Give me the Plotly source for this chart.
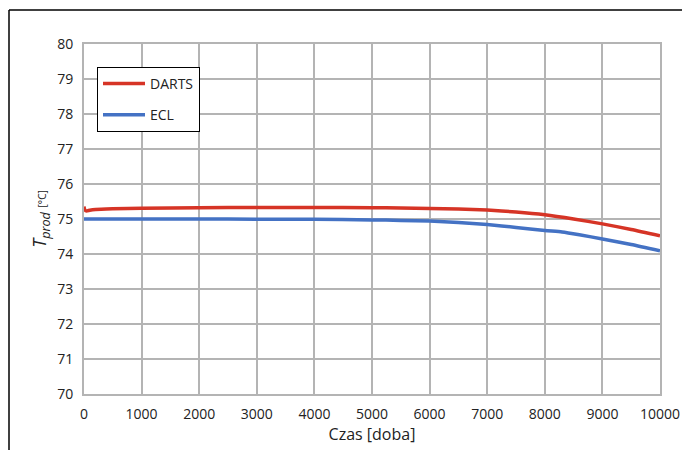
import plotly.graph_objects as go

# Data
darts_t = [0, 10, 40, 100, 200, 500, 1000, 2000, 3000, 4000, 5000, 5500, 6000, 6500, 7000, 7500, 8000, 8500, 9000, 9500, 10000]
darts_T = [75.36, 75.28, 75.23, 75.25, 75.27, 75.29, 75.31, 75.32, 75.33, 75.33, 75.32, 75.315, 75.30, 75.285, 75.255, 75.20, 75.12, 75.00, 74.86, 74.70, 74.52]
ecl_t = [0, 1000, 2000, 3000, 4000, 5000, 5500, 6000, 6500, 7000, 7500, 8000, 8300, 8600, 9000, 9500, 10000]
ecl_T = [75.0, 75.0, 75.0, 74.995, 74.99, 74.975, 74.96, 74.94, 74.90, 74.84, 74.76, 74.67, 74.63, 74.55, 74.43, 74.27, 74.09]
x_ticks = list(range(0, 10001, 1000))
x_labels = [str(v) for v in x_ticks]
y_ticks = list(range(70, 81))

W, H = 682, 450
ml, mr, mt, mb = 84, 22, 44, 56

fig = go.Figure()
fig.add_trace(go.Scatter(x=darts_t, y=darts_T, mode="lines", name="DARTS", legendgroup="a",
                         line=dict(color="#d63426", width=3.5, shape="spline", smoothing=0.6)))
fig.add_trace(go.Scatter(x=ecl_t, y=ecl_T, mode="lines", name="ECL", legendgroup="b",
                         line=dict(color="#4472c4", width=3.5, shape="spline", smoothing=0.6)))

pw = W - ml - mr
ph = H - mt - mb
fx0 = (9 - ml) / pw
fy1 = (H - mb - 10) / ph
fy0 = (H - mb - 452) / ph
fig.add_shape(type="line", xref="paper", yref="paper", x0=fx0, x1=fx0, y0=fy0, y1=fy1,
              line=dict(color="#000000", width=1.5))
fig.add_shape(type="line", xref="paper", yref="paper", x0=fx0, x1=(W + 5 - ml) / pw, y0=fy1, y1=fy1,
              line=dict(color="#000000", width=1.5))

fig.update_layout(
    width=W, height=H,
    margin=dict(l=ml, r=mr, t=mt, b=mb),
    paper_bgcolor="white", plot_bgcolor="white",
    font=dict(family="Open Sans", size=14, color="#222222"),
    showlegend=True,
    legend=dict(x=(97 - ml) / pw, y=(H - mb - 67) / ph, xanchor="left", yanchor="top",
                bordercolor="#000000", borderwidth=1, bgcolor="white",
                font=dict(size=14, color="#222222"), tracegroupgap=10,
                itemwidth=42, entrywidth=100),
    xaxis=dict(range=[0, 10000], tickvals=x_ticks, ticktext=x_labels, showgrid=True, gridcolor="#b4b4b4", gridwidth=2,
               showline=True, linecolor="#b4b4b4", linewidth=2, zeroline=False, ticks="",
               ticklabelstandoff=6, automargin=False,
               title=dict(text="Czas [doba]", font=dict(size=16, color="#222222"), standoff=4),
               tickfont=dict(size=14)),
    yaxis=dict(range=[70, 80], tickvals=y_ticks, showgrid=True, gridcolor="#b4b4b4", gridwidth=2,
               showline=True, linecolor="#b4b4b4", linewidth=2, zeroline=False, ticks="",
               ticklabelstandoff=6, automargin=False,
               title=dict(text="<i>T</i><sub><i>prod</i></sub> <span style='font-size:10px'>[°C]</span>",
                          font=dict(size=18, color="#222222"), standoff=6),
               tickfont=dict(size=14)),
)
fig.update_xaxes(mirror=True)
fig.update_yaxes(mirror=True)

fig.write_html("out.html")
